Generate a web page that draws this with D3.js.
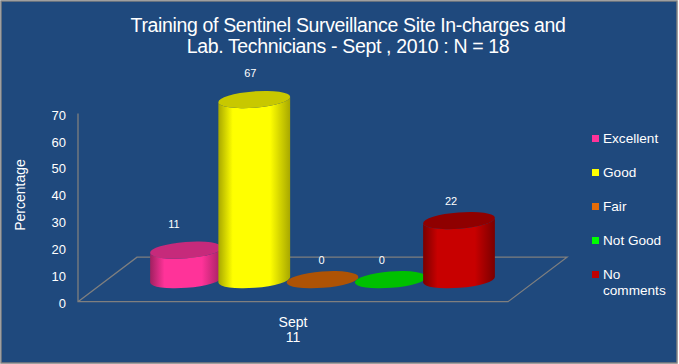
<!DOCTYPE html>
<html>
<head>
<meta charset="utf-8">
<script src="https://cdn.jsdelivr.net/npm/d3@7"></script>
<style>
  html, body { margin: 0; padding: 0; background: #fff; }
  svg { display: block; font-family: "Liberation Sans", Arial, sans-serif; }
</style>
</head>
<body>
<div id="vis-display"></div>
<script>
// 3D-look cylinder chart: training feedback, one cylinder per rating.

const TITLE_LINES = [
  "Training of Sentinel Surveillance Site In-charges and",
  "Lab. Technicians - Sept , 2010 : N = 18",
];
const CATEGORIES = ["Excellent", "Good", "Fair", "Not Good", "No comments"];
const VALUES = [11, 67, 0, 0, 22];
const Y_TICKS = [0, 10, 20, 30, 40, 50, 60, 70];
const X_LABELS = ["Sept", "11"];

const W = 679;
const H = 364;

const COLORS = {
  "Excellent":   { legend: "#ff3399", body: "#ff3399", dark: "#a02060", top: "#c62a7b" },
  "Good":        { legend: "#ffff00", body: "#ffff00", dark: "#a8a800", top: "#c8c800" },
  "Fair":        { legend: "#e36c09", body: "#e36c09", dark: "#8f4500", top: "#ae5305" },
  "Not Good":    { legend: "#00ff00", body: "#00ff00", dark: "#009000", top: "#00c000" },
  "No comments": { legend: "#c00000", body: "#c80000", dark: "#7a0000", top: "#8f0000" },
};

// label nudges from the cylinder's top, same order as CATEGORIES
const LABEL_NUDGE = [[-12, -14], [-4, -14], [-1, -8], [-9, -8], [-8, -7]];

const RX = 36;
const RY = 8.2;
const TILT = -4.5;
const BASE_Y = 279.7;   // centre of the cylinder bases

const svg = d3.select("#vis-display").append("svg")
  .attr("width", W)
  .attr("height", H);

// ── Background ──────────────────────────────────────────────────────────────

svg.append("rect")
  .attr("x", 1).attr("y", 1)
  .attr("width", 676).attr("height", H - 2)
  .attr("fill", "#1f497d")
  .attr("stroke", "#808080")
  .attr("stroke-width", 1.5);

// ── Scales ──────────────────────────────────────────────────────────────────

const yAxisScale = d3.scaleLinear().domain([0, 70]).range([301.7, 113.5]);
const pxPerUnit = (yAxisScale(0) - yAxisScale(70)) / 70;

const xScale = d3.scalePoint().domain(CATEGORIES).range([186, 459]);

// ── Title ───────────────────────────────────────────────────────────────────

svg.append("g").selectAll("text")
  .data(TITLE_LINES)
  .join("text")
    .attr("x", 348)
    .attr("y", (d, i) => 32 + i * 20.5)
    .attr("text-anchor", "middle")
    .attr("fill", "#fff")
    .style("font-size", "19.5px")
    .style("letter-spacing", "-0.35px")
    .text(d => d);

// ── Floor & axis ────────────────────────────────────────────────────────────

const FLOOR = { left: 78, right: 508, dx: 59, dy: -44.5 };
const y0 = yAxisScale(0);

svg.append("path")
  .attr("d", `M${FLOOR.left},${yAxisScale(70)}V${y0}H${FLOOR.right}` +
             `L${FLOOR.right + FLOOR.dx},${y0 + FLOOR.dy}H${FLOOR.left + FLOOR.dx}L${FLOOR.left},${y0}`)
  .attr("fill", "none")
  .attr("stroke", "#7f7f7f")
  .attr("stroke-width", 1.3);

svg.append("g")
  .attr("transform", `translate(${FLOOR.left},1.5)`)
  .call(d3.axisLeft(yAxisScale).tickValues(Y_TICKS).tickSize(0).tickPadding(12))
  .call(ax => ax.select(".domain").remove())
  .selectAll("text")
    .attr("fill", "#fff")
    .style("font-family", "'Liberation Sans', Arial, sans-serif")
    .style("font-size", "13px");

svg.append("text")
  .attr("transform", "rotate(-90)")
  .attr("x", -195)
  .attr("y", 25)
  .attr("text-anchor", "middle")
  .attr("fill", "#fff")
  .style("font-size", "14px")
  .text("Percentage");

svg.append("g").selectAll("text")
  .data(X_LABELS)
  .join("text")
    .attr("x", 293)
    .attr("y", (d, i) => 327 + i * 15)
    .attr("text-anchor", "middle")
    .attr("fill", "#fff")
    .style("font-size", "14px")
    .text(d => d);

// ── Cylinders ───────────────────────────────────────────────────────────────

const defs = svg.append("defs");
const nodes = CATEGORIES.map((name, i) => ({ name, value: VALUES[i], nudge: LABEL_NUDGE[i], c: COLORS[name], i }));

nodes.forEach(d => {
  const grad = defs.append("linearGradient").attr("id", `cyl-${d.i}`);
  grad.append("stop").attr("offset", "0%").attr("stop-color", d.c.dark);
  grad.append("stop").attr("offset", "20%").attr("stop-color", d.c.body);
  grad.append("stop").attr("offset", "72%").attr("stop-color", d.c.body);
  grad.append("stop").attr("offset", "100%").attr("stop-color", d.c.dark);
});

const ex = RX * Math.cos(TILT * Math.PI / 180);
const ey = RX * Math.sin(TILT * Math.PI / 180);

const bodyPath = d => {
  const cx = xScale(d.name);
  const top = BASE_Y - d.value * pxPerUnit;
  return `M${cx - ex},${top - ey}L${cx - ex},${BASE_Y - ey}` +
         `A${RX},${RY} ${TILT} 0 0 ${cx + ex},${BASE_Y + ey}` +
         `L${cx + ex},${top + ey}` +
         `A${RX},${RY} ${TILT} 0 1 ${cx - ex},${top - ey}Z`;
};

// shorter ones first, so the tall cylinders sit in front
const drawOrder = nodes.slice().sort((a, b) => d3.ascending(a.value, b.value));

const cyl = svg.append("g").selectAll("g")
  .data(drawOrder)
  .join("g");

cyl.filter(d => d.value > 0).append("path")
  .attr("d", bodyPath)
  .attr("fill", d => `url(#cyl-${d.i})`);

cyl.append("ellipse")
  .attr("rx", RX)
  .attr("ry", RY)
  .attr("transform", d => `translate(${xScale(d.name)},${BASE_Y - d.value * pxPerUnit}) rotate(${TILT})`)
  .attr("fill", d => d.c.top);

// ── Value labels ────────────────────────────────────────────────────────────

svg.append("g").selectAll("text")
  .data(nodes)
  .join("text")
    .attr("x", d => xScale(d.name) + d.nudge[0])
    .attr("y", d => BASE_Y - d.value * pxPerUnit - RY + d.nudge[1])
    .attr("text-anchor", "middle")
    .attr("fill", "#fff")
    .style("font-size", "11px")
    .text(d => d.value);

// ── Legend ──────────────────────────────────────────────────────────────────

const legend = svg.append("g").selectAll("g")
  .data(nodes)
  .join("g")
    .attr("transform", (d, i) => `translate(592,${138.5 + i * 34})`);

legend.append("rect")
  .attr("x", 0).attr("y", -3.5)
  .attr("width", 7).attr("height", 7)
  .attr("fill", d => d.c.legend);

legend.append("text")
  .attr("fill", "#fff")
  .style("font-size", "13.6px")
  .selectAll("tspan")
  .data(d => d.name === "No comments" ? ["No", "comments"] : [d.name])
  .join("tspan")
    .attr("x", 11)
    .attr("y", (d, i) => 4.5 + i * 16)
    .text(d => d);
</script>
</body>
</html>
